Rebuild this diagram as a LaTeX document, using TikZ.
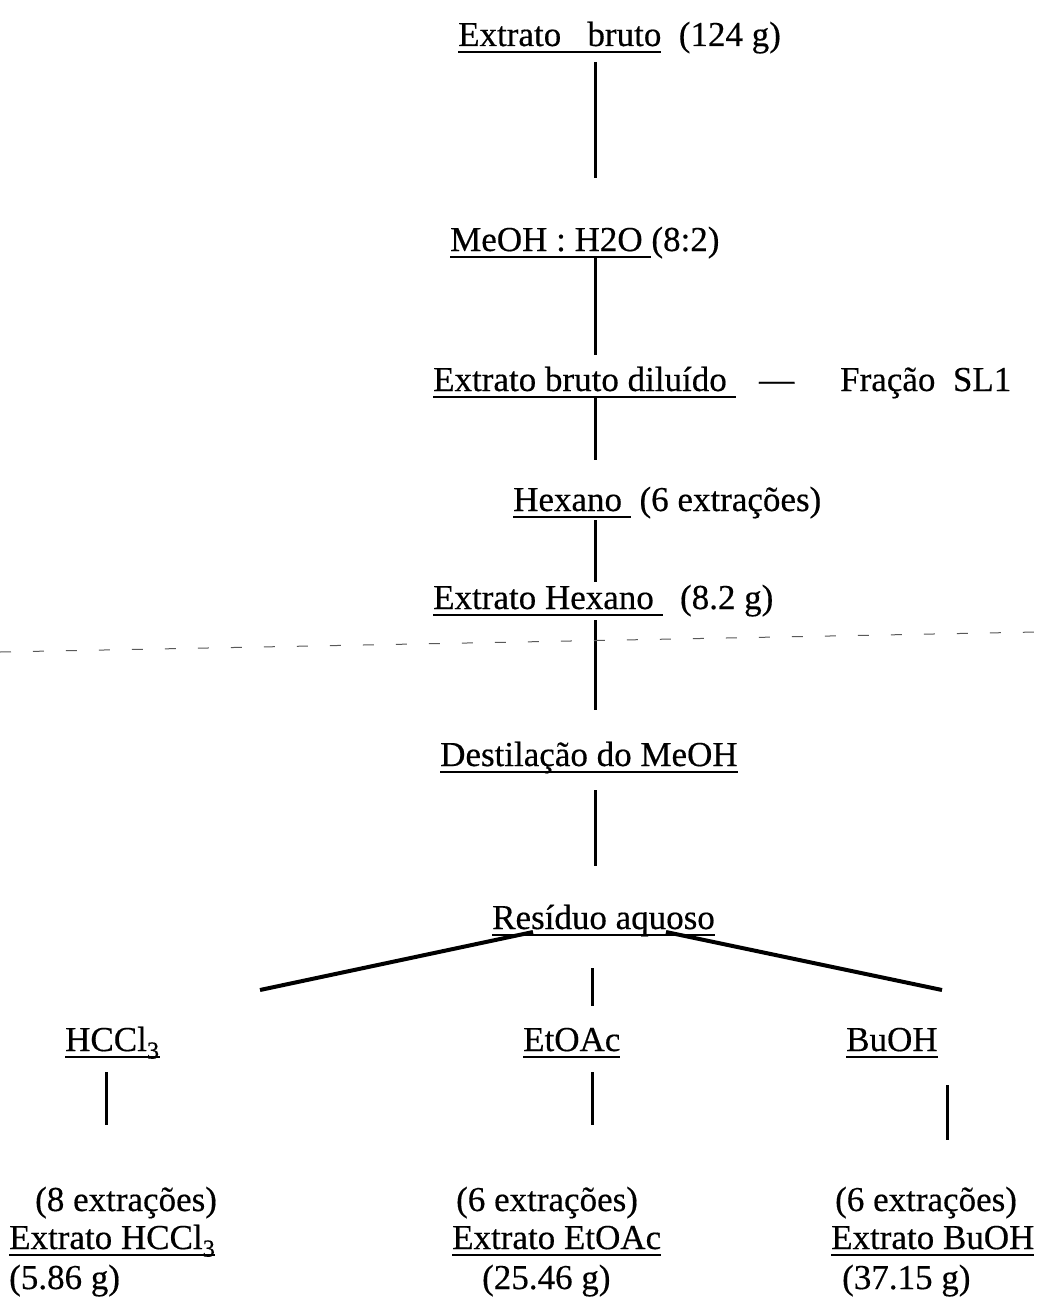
\documentclass[tikz,border=0pt]{standalone}
\usepackage{fontspec}
\setmainfont{Liberation Serif}[FakeBold=0.4]
\newlength\ulw
\newcommand\ulin[1]{\settowidth\ulw{#1}\rlap{#1}\rule[-7pt]{\ulw}{2pt}}
\begin{document}
\begin{tikzpicture}[x=1pt,y=-1pt,
  t/.style={inner sep=0pt, anchor=base west, font=\fontsize{35}{40}\selectfont},
  conn/.style={line width=3pt},
  diag/.style={line width=4pt},
  sep/.style={line width=1pt, dash pattern=on 11pt off 22pt, black!65}]
\useasboundingbox (0,0) rectangle (1037,1306);
% texts
\node[t] (eb) at (458,46) {\ulin{Extrato\ \ \ bruto}\ \ (124 g)};
\node[t] (mh) at (450,251) {\ulin{MeOH : H2O\ }(8:2)};
\node[t] (ebd) at (433,391) {\ulin{Extrato bruto diluído\ }};
\node[t] (dash) at (759,391) {—};
\node[t] (sl1) at (840,391) {Fração\ \ SL1};
\node[t] (hx) at (513,511) {\ulin{Hexano\ }\ (6 extrações)};
\node[t] (ehx) at (433,609) {\ulin{Extrato Hexano\ }\ \ (8.2 g)};
\node[t] (dst) at (440,766) {\ulin{Destilação do MeOH}};
\node[t] (res) at (492,929) {\ulin{Resíduo aquoso}};
\node[t] (hc) at (65,1051) {\ulin{HCCl\textsubscript{3}}};
\node[t] (et) at (523,1051) {\ulin{EtOAc}};
\node[t] (bu) at (846,1051) {\ulin{BuOH}};
\node[t] (x8) at (35,1211) {(8 extrações)};
\node[t] (ehc) at (9,1249) {\ulin{Extrato HCCl\textsubscript{3}}};
\node[t] (m1) at (9,1289) {(5.86 g)};
\node[t] (x6a) at (456,1211) {(6 extrações)};
\node[t] (eet) at (452,1249) {\ulin{Extrato EtOAc}};
\node[t] (m2) at (482,1289) {(25.46 g)};
\node[t] (x6b) at (835,1211) {(6 extrações)};
\node[t] (ebu) at (831,1249) {\ulin{Extrato BuOH}};
\node[t] (m3) at (842,1289) {(37.15 g)};
% connector end points
\coordinate (a1) at (595,62);   \coordinate (a2) at (595,178);
\coordinate (b1) at (595,258);  \coordinate (b2) at (595,355);
\coordinate (c1) at (595,398);  \coordinate (c2) at (595,460);
\coordinate (d1) at (595,520);  \coordinate (d2) at (595,582);
\coordinate (e1) at (595,620);  \coordinate (e2) at (595,710);
\coordinate (f1) at (595,790);  \coordinate (f2) at (595,866);
\coordinate (gl1) at (533,932); \coordinate (gl2) at (260,990);
\coordinate (gm1) at (592,968); \coordinate (gm2) at (592,1006);
\coordinate (gr1) at (666,932); \coordinate (gr2) at (942,990);
\coordinate (h1) at (106,1072); \coordinate (h2) at (106,1125);
\coordinate (i1) at (592,1072); \coordinate (i2) at (592,1125);
\coordinate (j1) at (947,1085); \coordinate (j2) at (947,1140);
\coordinate (s1) at (0,652);    \coordinate (s2) at (1037,632);
% connectors
\draw[conn] (a1) -- (a2);
\draw[conn] (b1) -- (b2);
\draw[conn] (c1) -- (c2);
\draw[conn] (d1) -- (d2);
\draw[conn] (e1) -- (e2);
\draw[conn] (f1) -- (f2);
\draw[diag] (gl1) -- (gl2);
\draw[conn] (gm1) -- (gm2);
\draw[diag] (gr1) -- (gr2);
\draw[conn] (h1) -- (h2);
\draw[conn] (i1) -- (i2);
\draw[conn] (j1) -- (j2);
\draw[sep] (s1) -- (s2);
\end{tikzpicture}
\end{document}
